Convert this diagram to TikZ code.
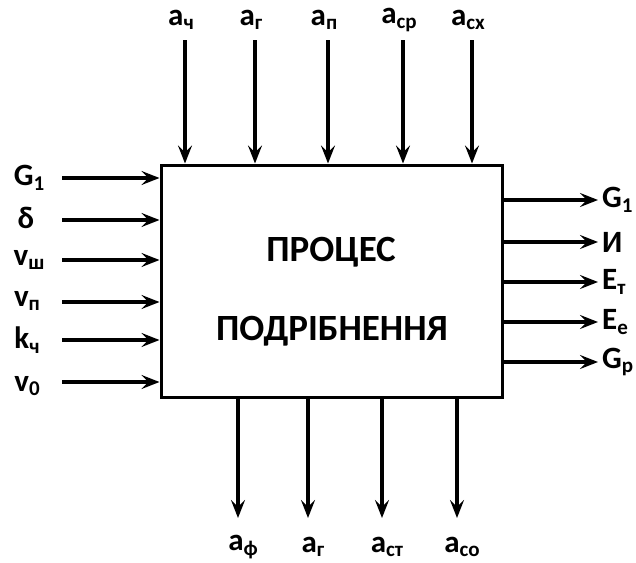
\documentclass[tikz,border=0pt]{standalone}
\usepackage{fontspec}
\setmainfont{Carlito}
\usetikzlibrary{arrows.meta}
\newcommand{\lowidx}[1]{\raisebox{-0.3ex}{\fontsize{21}{22}\selectfont #1}}
\tikzset{
  lab/.style={font=\bfseries\fontsize{31}{33}\selectfont, inner sep=0pt},
  flow/.style={line width=3.8pt, -{Stealth[length=18pt,width=14pt,inset=7pt]}},
  procbox/.style={draw, line width=3pt, minimum width=341pt, minimum height=232pt, inner sep=0pt},
  boxtext/.style={font=\bfseries\fontsize{37}{40}\selectfont, inner sep=0pt}
}
\begin{document}
\begin{tikzpicture}[x=1pt,y=-1pt]
\useasboundingbox (0,0) rectangle (636,562);
\node[procbox] (box) at (331.5,281) {};
\node[boxtext] (t1) at (331,252) {ПРОЦЕС};
\node[boxtext] (t2) at (332,331) {ПОДРІБНЕННЯ};
% top inputs
\foreach \n/\x/\t in {1/185/ч,2/255/г,3/328/п,4/403/ср,5/472/сх}{
  \node[lab] (top\n) at (\x-4,20) {a\lowidx{\t}};
  \coordinate (ts\n) at (\x,40);
  \draw[flow] (ts\n) -- (box.north -| ts\n);
}
% left inputs
\node[lab] (l1) at (29,178) {G\lowidx{1}};
\node[lab] (l2) at (26,218) {δ};
\node[lab] (l3) at (29,260) {v\lowidx{ш}};
\node[lab] (l4) at (27,301) {v\lowidx{п}};
\node[lab] (l5) at (27,340) {k\lowidx{ч}};
\node[lab] (l6) at (27,386) {v\lowidx{0}};
\foreach \n/\y in {1/178,2/220,3/260,4/302,5/340,6/382}{
  \coordinate (ls\n) at (62,\y);
  \draw[flow] (ls\n) -- (box.west |- ls\n);
}
% right outputs
\foreach \n/\y/\t in {1/200/{G\lowidx{1}},2/242/{И},3/282/{E\lowidx{т}},4/322/{E\lowidx{е}},5/362/{G\lowidx{р}}}{
  \coordinate (re\n) at (598,\y);
  \draw[flow] (box.east |- re\n) -- (re\n);
  \node[lab, anchor=west] (r\n) at (602,\y) {\t};
}
% bottom outputs
\foreach \n/\x/\t in {1/238/ф,2/308/г,3/382/ст,4/457/со}{
  \coordinate (be\n) at (\x,518);
  \draw[flow] (box.south -| be\n) -- (be\n);
  \node[lab] (b\n) at (\x+5,547) {a\lowidx{\t}};
}
\end{tikzpicture}
\end{document}
